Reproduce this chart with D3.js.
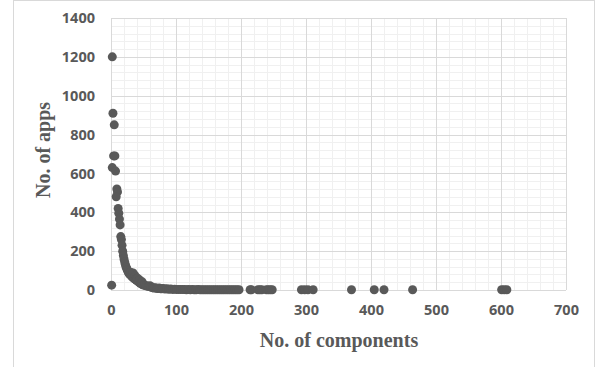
<!DOCTYPE html>
<html>
<head>
<meta charset="utf-8">
<script src="https://cdn.jsdelivr.net/npm/d3@7"></script>
<style>
  body { margin: 0; background: #fff; }
  .tick text { font-family: "Open Sans", sans-serif; font-weight: bold; font-size: 14.5px; fill: #595959; }
  .axisTitle { font-family: "Liberation Serif", serif; font-weight: bold; font-size: 20px; fill: #595959; }
</style>
</head>
<body>
<div id="chart"></div>
<script>
var svgWidth = 596;
var svgHeight = 367;

var margin = { top: 18, right: 30, bottom: 77, left: 111 };
var width = 566 - margin.left;
var height = 290 - margin.top;

// data
var components = [1, 2, 3, 5, 4, 6, 2, 7, 9, 10, 8, 11, 12, 13, 14, 15, 16, 17, 18, 19,
  20, 21, 22, 23, 24, 25, 26, 27, 28, 29, 30, 31, 32, 33, 34, 35, 36, 37, 38, 39,
  40, 41, 42, 43, 44, 45, 46, 47, 48, 49, 50, 52, 54, 56, 58, 60, 62, 64, 66, 68,
  70, 72, 74, 76, 78, 80, 83, 86, 89, 92, 95, 98, 101, 104, 107, 110, 113, 116, 119, 122,
  125, 128, 131, 134, 137, 140, 143, 146, 149, 152, 155, 158, 161, 164, 167, 170, 173, 176, 179, 182,
  185, 188, 191, 194, 197, 214, 216, 226, 229, 232, 239, 242, 245, 248,
  293, 298, 303, 311, 370, 405, 420, 464, 601, 605, 609];
var apps = [25, 1200, 910, 850, 690, 690, 630, 612, 520, 505, 480, 420, 395, 365, 335, 275, 260, 230, 200, 178,
  160, 145, 132, 120, 112, 104, 96, 90, 84, 80, 92, 76, 70, 66, 88, 62, 58, 74, 55, 50,
  48, 60, 45, 40, 52, 36, 34, 30, 42, 28, 26, 24, 22, 20, 18, 22, 14, 12, 10, 12,
  9, 8, 10, 7, 6, 8, 5, 6, 4, 5, 3, 4, 3, 2, 3, 2, 2, 1, 2, 1,
  2, 1, 1, 2, 1, 1, 1, 1, 1, 1, 1, 1, 1, 1, 1, 1, 1, 1, 1, 1,
  1, 1, 1, 1, 1, 1, 1, 1, 1, 1, 1, 1, 1, 1,
  1, 1, 1, 1, 1, 1, 1, 1, 1, 1, 1];
var xTicks = [0, 100, 200, 300, 400, 500, 600, 700];
var yTicks = [0, 200, 400, 600, 800, 1000, 1200, 1400];

var points = components.map(function(c, i) { return { x: c, y: apps[i] }; });

var svg = d3.select("#chart")
  .append("svg")
  .attr("width", svgWidth)
  .attr("height", svgHeight);

// outer chart border
svg.append("rect")
  .attr("x", 13.5).attr("y", 0.5)
  .attr("width", 581).attr("height", 400)
  .attr("fill", "none").attr("stroke", "#d9d9d9");

var chartGroup = svg.append("g")
  .attr("transform", `translate(${margin.left}, ${margin.top})`);

var xScale = d3.scaleLinear().domain([0, 700]).range([0, width]);
var yScale = d3.scaleLinear().domain([0, 1400]).range([height, 0]);

// minor gridlines
chartGroup.append("g").selectAll("line")
  .data(d3.range(0, 701, 20))
  .enter().append("line")
  .attr("x1", d => Math.round(xScale(d)) + 0.5).attr("x2", d => Math.round(xScale(d)) + 0.5)
  .attr("y1", 0).attr("y2", height)
  .attr("stroke", "#f0f0f0");
chartGroup.append("g").selectAll("line")
  .data(d3.range(0, 1401, 40))
  .enter().append("line")
  .attr("y1", d => Math.round(yScale(d)) + 0.5).attr("y2", d => Math.round(yScale(d)) + 0.5)
  .attr("x1", 0).attr("x2", width)
  .attr("stroke", "#f0f0f0");

// major gridlines
chartGroup.append("g").selectAll("line")
  .data(xTicks)
  .enter().append("line")
  .attr("x1", d => Math.round(xScale(d)) + 0.5).attr("x2", d => Math.round(xScale(d)) + 0.5)
  .attr("y1", 0).attr("y2", height)
  .attr("stroke", "#d9d9d9");
chartGroup.append("g").selectAll("line")
  .data(yTicks)
  .enter().append("line")
  .attr("y1", d => Math.round(yScale(d)) + 0.5).attr("y2", d => Math.round(yScale(d)) + 0.5)
  .attr("x1", 0).attr("x2", width)
  .attr("stroke", "#d9d9d9");

// axes (labels only)
var bottomAxis = d3.axisBottom(xScale).tickValues(xTicks).tickFormat(d3.format("d")).tickSize(0).tickPadding(15);
var leftAxis = d3.axisLeft(yScale).tickValues(yTicks).tickFormat(d3.format("d")).tickSize(0).tickPadding(16);

chartGroup.append("g")
  .attr("transform", `translate(0, ${height})`)
  .call(bottomAxis)
  .call(g => g.select(".domain").remove());

chartGroup.append("g")
  .call(leftAxis)
  .call(g => g.select(".domain").remove());

// points
chartGroup.selectAll("circle")
  .data(points)
  .enter().append("circle")
  .attr("cx", d => xScale(d.x))
  .attr("cy", d => yScale(d.y))
  .attr("r", 4.5)
  .attr("fill", "#595959");

// axis titles
svg.append("text")
  .attr("class", "axisTitle")
  .attr("transform", "translate(50, 150) rotate(-90)")
  .attr("text-anchor", "middle")
  .text("No. of apps");

svg.append("text")
  .attr("class", "axisTitle")
  .attr("x", 339).attr("y", 347)
  .attr("text-anchor", "middle")
  .text("No. of components");
</script>
</body>
</html>
